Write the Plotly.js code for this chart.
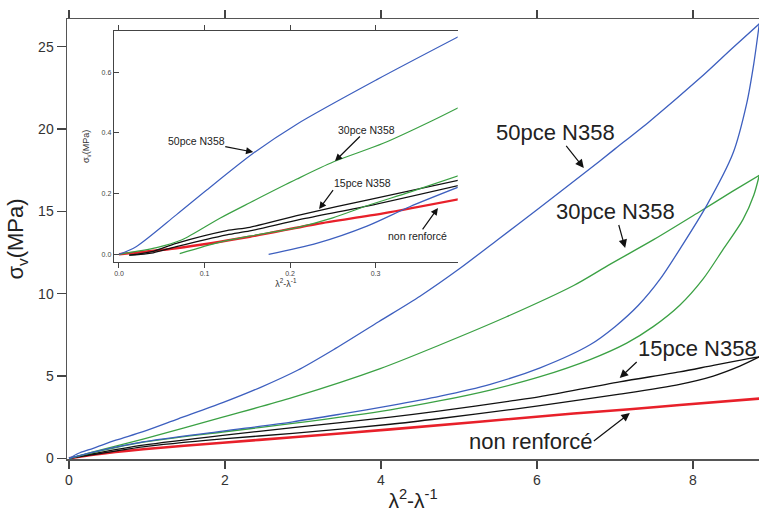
<!DOCTYPE html>
<html>
<head>
<meta charset="utf-8">
<script src="https://cdn.plot.ly/plotly-3.0.1.min.js"></script>
<style>html,body{margin:0;padding:0;background:#fff;}#chart{width:759px;height:513px;}</style>
</head>
<body>
<div id="chart"></div>
<script>
// ---------- main plot data (λ²-λ⁻¹ vs σv in MPa) ----------
const m50LoadX = [0, 0.14, 0.31, 0.6, 0.95, 1.4, 1.97, 2.45, 2.93, 3.39, 3.97, 4.5, 5.0, 5.5, 6.0, 6.6, 7.0, 7.45, 8.09, 8.5, 8.85];
const m50LoadY = [0, 0.34, 0.61, 1.1, 1.62, 2.4, 3.38, 4.3, 5.35, 6.6, 8.3, 9.85, 11.5, 13.3, 15.1, 17.3, 18.8, 20.5, 23.1, 24.9, 26.4];
const m50UnloadX = [8.85, 8.78, 8.69, 8.51, 8.18, 7.87, 7.58, 7.3, 7.0, 6.68, 6.04, 5.4, 4.76, 4.12, 3.5, 2.87, 1.97, 0.95, 0.31, 0];
const m50UnloadY = [26.4, 24.0, 21.6, 18.5, 15.4, 13.0, 10.9, 9.3, 8.0, 6.9, 5.5, 4.5, 3.78, 3.2, 2.7, 2.22, 1.65, 1.0, 0.38, 0];

const m30LoadX = [0, 0.31, 0.95, 1.97, 2.87, 3.99, 4.76, 5.61, 6.47, 6.94, 7.5, 8.09, 8.5, 8.85];
const m30LoadY = [0, 0.4, 1.17, 2.5, 3.7, 5.45, 6.9, 8.6, 10.5, 11.8, 13.3, 15.0, 16.2, 17.2];
const m30UnloadX = [8.85, 8.78, 8.64, 8.38, 8.13, 7.83, 7.49, 7.15, 6.68, 6.04, 5.4, 4.76, 4.12, 2.87, 1.97, 0.95, 0.31, 0];
const m30UnloadY = [17.2, 16.0, 14.5, 12.65, 10.9, 9.3, 8.0, 7.0, 6.0, 4.96, 4.15, 3.5, 2.95, 2.12, 1.6, 0.98, 0.35, 0];

const m15LoadX = [0, 0.31, 0.95, 1.97, 2.87, 4.12, 4.76, 5.69, 6.04, 7.06, 7.83, 8.26, 8.73, 8.85];
const m15LoadY = [0, 0.28, 0.8, 1.4, 1.86, 2.5, 2.88, 3.5, 3.75, 4.65, 5.25, 5.65, 6.07, 6.16];
const m15UnloadX = [8.85, 8.6, 8.26, 7.83, 7.06, 6.04, 5.69, 4.76, 4.12, 2.87, 1.97, 0.95, 0.31, 0];
const m15UnloadY = [6.16, 5.6, 5.0, 4.5, 3.9, 3.2, 2.98, 2.42, 2.07, 1.52, 1.18, 0.7, 0.22, 0];

const mRefX = [0, 0.31, 0.95, 1.97, 2.87, 4.12, 6.47, 7.19, 7.83, 8.85];
const mRefY = [0, 0.22, 0.55, 0.95, 1.28, 1.76, 2.72, 2.98, 3.24, 3.63];

// ---------- inset data (small strains) ----------
const i50LoadX = [0, 0.02, 0.067, 0.1026, 0.157, 0.208, 0.301, 0.4];
const i50LoadY = [0, 0.025, 0.13, 0.212, 0.333, 0.429, 0.575, 0.722];
const i50UnloadX = [0.175, 0.231, 0.29, 0.34, 0.4];
const i50UnloadY = [0, 0.036, 0.093, 0.157, 0.225];

const i30LoadX = [0, 0.044, 0.073, 0.118, 0.153, 0.208, 0.251, 0.309, 0.368, 0.4];
const i30LoadY = [0, 0.022, 0.047, 0.119, 0.17, 0.248, 0.305, 0.366, 0.443, 0.488];
const i30UnloadX = [0.071, 0.118, 0.153, 0.208, 0.25, 0.29, 0.34, 0.4];
const i30UnloadY = [0.002, 0.04, 0.06, 0.088, 0.12, 0.16, 0.205, 0.262];

const i15X = [0.012, 0.04, 0.067, 0.126, 0.153, 0.212, 0.29, 0.4];
const i15LoadY = [-0.003, 0.01, 0.036, 0.078, 0.089, 0.13, 0.179, 0.246];
const i15UnloadY = [-0.003, 0.005, 0.025, 0.064, 0.077, 0.115, 0.159, 0.229];

const iRefX = [0, 0.067, 0.153, 0.231, 0.309, 0.4];
const iRefY = [0, 0.02, 0.058, 0.1, 0.135, 0.183];

// labels
const seriesLabels = ['50pce N358', '30pce N358', '15pce N358', 'non renforcé'];
const xTitle = 'λ<sup>2</sup>-λ<sup>-1</sup>';
const yTitle = 'σ<sub>v</sub>(MPa)';
const mainTicksX = [0, 2, 4, 6, 8];
const mainTicksY = [0, 5, 10, 15, 20, 25];
const insetTicksX = [0.0, 0.1, 0.2, 0.3];
const insetTicksY = [0.0, 0.2, 0.4, 0.6];

const BLUE = '#3d5fbf', GREEN = '#3ba144', RED = '#e8202a', BLACK = '#111111';
const FONT = 'Arial, "Liberation Sans", Helvetica, sans-serif';

function line(x, y, color, width, xa, ya) {
  return {x: x, y: y, type: 'scatter', mode: 'lines', xaxis: xa, yaxis: ya,
          line: {color: color, width: width, shape: 'spline', smoothing: 0.8},
          hoverinfo: 'skip', showlegend: false};
}

const traces = [
  line(mRefX, mRefY, RED, 2.6, 'x', 'y'),
  line(m15LoadX, m15LoadY, BLACK, 1.3, 'x', 'y'),
  line(m15UnloadX, m15UnloadY, BLACK, 1.3, 'x', 'y'),
  line(m30LoadX, m30LoadY, GREEN, 1.3, 'x', 'y'),
  line(m30UnloadX, m30UnloadY, GREEN, 1.3, 'x', 'y'),
  line(m50LoadX, m50LoadY, BLUE, 1.3, 'x', 'y'),
  line(m50UnloadX, m50UnloadY, BLUE, 1.3, 'x', 'y'),

  line(iRefX, iRefY, RED, 2.4, 'x2', 'y2'),
  line(i15X, i15LoadY, BLACK, 1.3, 'x2', 'y2'),
  line(i15X, i15UnloadY, BLACK, 1.3, 'x2', 'y2'),
  line(i30LoadX, i30LoadY, GREEN, 1.2, 'x2', 'y2'),
  line(i30UnloadX, i30UnloadY, GREEN, 1.2, 'x2', 'y2'),
  line(i50LoadX, i50LoadY, BLUE, 1.2, 'x2', 'y2'),
  line(i50UnloadX, i50UnloadY, BLUE, 1.2, 'x2', 'y2')
];

// label with its arrow: (x, y) = arrow head, (ax, ay) = text anchor offset in px
function label(xref, yref, x, y, txt, size, ax, ay, xanchor, yanchor) {
  return {xref: xref, yref: yref, x: x, y: y, ax: ax, ay: ay, text: txt,
          showarrow: true, arrowhead: 2, arrowsize: size > 15 ? 1.4 : 1.2, arrowwidth: 1.2,
          arrowcolor: '#111', standoff: 0, borderpad: 0,
          xanchor: xanchor || 'center', yanchor: yanchor || 'middle',
          font: {family: FONT, size: size, color: '#222'}};
}

const annotations = [
  // main labels
  label('x', 'y', 6.6, 17.64, seriesLabels[0], 22, -28, -35),
  label('x', 'y', 7.13, 12.78, seriesLabels[1], 22, -10, -36),
  label('x', 'y', 7.06, 4.88, seriesLabels[2], 22, 17, -16, 'left', 'bottom'),
  label('x', 'y', 7.19, 2.75, seriesLabels[3], 22, -36, 28, 'right', 'middle'),
  // inset labels
  label('x2', 'y2', 0.157, 0.337, seriesLabels[0], 10.5, -57, -11),
  label('x2', 'y2', 0.2526, 0.3076, seriesLabels[1], 10.5, 31.5, -31),
  label('x2', 'y2', 0.234, 0.149, seriesLabels[2], 10.5, 14, -19, 'left', 'bottom'),
  label('x2', 'y2', 0.373, 0.153, seriesLabels[3], 10.5, -20, 28)
];

const layout = {
  width: 759, height: 513,
  margin: {l: 67, r: 0, t: 19, b: 54, pad: 0},
  paper_bgcolor: '#ffffff', plot_bgcolor: '#ffffff',
  font: {family: FONT, color: '#333'},
  showlegend: false,
  xaxis: {
    domain: [0, 1], range: [-0.0256, 8.846], tickvals: mainTicksX, ticktext: mainTicksX.map(String),
    ticks: 'outside', ticklen: 8, tickwidth: 1.3, tickcolor: '#444',
    showline: true, linecolor: '#555', linewidth: 1.5, mirror: 'ticks',
    showgrid: false, zeroline: false, tickfont: {family: FONT, size: 14, color: '#333'},
    title: {text: xTitle, standoff: 6, font: {family: FONT, size: 21, color: '#222'}}
  },
  yaxis: {
    domain: [0, 1], range: [-0.04, 26.69], tickvals: mainTicksY, ticktext: mainTicksY.map(String),
    ticks: 'outside', ticklen: 9, tickwidth: 1.3, tickcolor: '#444',
    showline: true, linecolor: '#555', linewidth: 1.5, mirror: false,
    showgrid: false, zeroline: false, tickfont: {family: FONT, size: 14, color: '#333'},
    title: {text: yTitle, standoff: 8, font: {family: FONT, size: 22, color: '#222'}}
  },
  xaxis2: {
    domain: [0.0679, 0.5646], anchor: 'y2', range: [-0.00585, 0.3961],
    tickvals: insetTicksX, ticktext: insetTicksX.map(v => v.toFixed(1)),
    ticks: 'outside', ticklen: 5, tickwidth: 1, tickcolor: '#444',
    showline: true, linecolor: '#444', linewidth: 1.3, mirror: 'ticks',
    showgrid: false, zeroline: false, tickfont: {family: FONT, size: 7, color: '#444'},
    title: {text: xTitle, standoff: 2, font: {family: FONT, size: 9, color: '#333'}}
  },
  yaxis2: {
    domain: [0.4484, 0.9727], anchor: 'x2', range: [-0.0244, 0.7362],
    tickvals: insetTicksY, ticktext: insetTicksY.map(v => v.toFixed(1)),
    ticks: 'inside', ticklen: 5, tickwidth: 1, tickcolor: '#444',
    showline: true, linecolor: '#444', linewidth: 1.3, mirror: false,
    showgrid: false, zeroline: false, tickfont: {family: FONT, size: 7, color: '#444'},
    title: {text: yTitle, standoff: 10, font: {family: FONT, size: 9, color: '#333'}}
  },
  yaxis3: {
    overlaying: 'y2', anchor: 'x2', side: 'right', range: [-0.0244, 0.7362],
    tickvals: insetTicksY, showticklabels: false,
    ticks: 'outside', ticklen: 5, tickwidth: 1, tickcolor: '#444',
    showline: true, linecolor: '#444', linewidth: 1.3,
    showgrid: false, zeroline: false
  },
  annotations: annotations
};

Plotly.newPlot('chart', traces, layout, {displayModeBar: false, staticPlot: true});
</script>
</body>
</html>
